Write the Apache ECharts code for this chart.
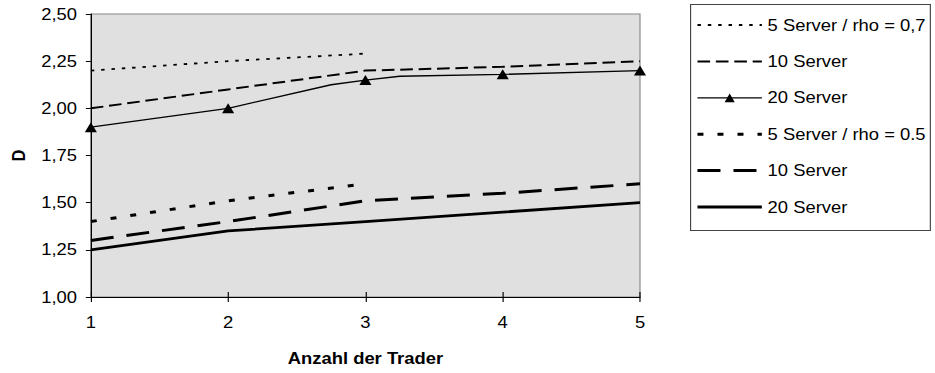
<!DOCTYPE html>
<html>
<head>
<meta charset="utf-8">
<script src="https://cdn.jsdelivr.net/npm/echarts@6/dist/echarts.min.js"></script>
<style>
  html, body { margin: 0; padding: 0; background: #fff; overflow: hidden; width: 935px; height: 373px; }
  /* The chart is laid out on a narrower canvas and widened, as in the original export */
  #chart { position: absolute; left: 0; top: 0; width: 813px; height: 373px; transform: scaleX(1.15); transform-origin: 0 0; }
</style>
</head>
<body>
<div id="chart"></div>
<script>
// Number of traders (x axis)
const traders = [1, 2, 3, 4, 5];

// rho = 0,7
const rho07Server5 = [2.20, 2.25, 2.29];
const rho07Server10 = [2.00, 2.10, 2.20, 2.22, 2.25];
const rho07Server20 = [1.90, 2.00, 2.15, 2.18, 2.20];
const rho07Server20Bends = [[2.75, 2.125], [3.25, 2.17]];

// rho = 0.5
const rho05Server5 = [1.40, 1.51, 1.60];
const rho05Server10 = [1.30, 1.40, 1.51, 1.55, 1.60];
const rho05Server20 = [1.25, 1.35, 1.40, 1.45, 1.50];

const legendLabels = {
  s5r07: '5 Server / rho = 0,7',
  s10r07: '10 Server',
  s20r07: '20 Server',
  s5r05: '5 Server / rho = 0.5',
  s10r05: '10 Server',
  s20r05: '20 Server'
};

const FONT = "'Liberation Sans', Arial, sans-serif";
const BLACK = '#000';

function pairs(xs, ys) {
  return ys.map((y, i) => [xs[i], y]);
}

// Triangle markers only at whole trader counts; bend points carry no marker
const server20r07Data = rho07Server20.map((y, i) => ({ value: [traders[i], y] }))
  .concat(rho07Server20Bends.map(p => ({ value: p, symbol: 'none' })))
  .sort((a, b) => a.value[0] - b.value[0]);

const styles = {
  s5r07: { width: 1.8, type: [3, 6] },
  s10r07: { width: 2, type: [11, 5] },
  s20r07: { width: 1.3, type: 'solid' },
  s5r05: { width: 3, type: [5.2, 12.2] },
  s10r05: { width: 3, type: [20, 11.3] },
  s20r05: { width: 2.8, type: 'solid' }
};

function lineSeries(name, data) {
  return {
    name: name,
    type: 'line',
    data: data,
    symbol: 'none',
    silent: true,
    itemStyle: { color: BLACK },
    lineStyle: { color: BLACK, width: styles[name].width, type: styles[name].type, cap: 'butt' }
  };
}

const series = [
  lineSeries('s5r07', pairs(traders, rho07Server5)),
  lineSeries('s10r07', pairs(traders, rho07Server10)),
  Object.assign(lineSeries('s20r07', server20r07Data), {
    symbol: 'triangle',
    symbolSize: [10.5, 10]
  }),
  lineSeries('s5r05', pairs(traders, rho05Server5)),
  lineSeries('s10r05', pairs(traders, rho05Server10)),
  lineSeries('s20r05', pairs(traders, rho05Server20))
];

function legendItem(name) {
  const item = {
    name: name,
    lineStyle: { color: BLACK, width: styles[name].width, type: styles[name].type, cap: 'butt' }
  };
  if (name !== 's20r07') item.itemStyle = { opacity: 0 };
  return item;
}

const chart = echarts.init(document.getElementById('chart'), null, { renderer: 'svg' });

chart.setOption({
  animation: false,
  backgroundColor: '#fff',
  textStyle: { fontFamily: FONT },
  grid: {
    show: true,
    left: 78.26,
    top: 14,
    width: 478.26,
    height: 283,
    backgroundColor: '#e0e0e0',
    borderColor: '#888',
    borderWidth: 1
  },
  xAxis: [
    {
      type: 'value',
      min: 1,
      max: 5,
      interval: 1,
      position: 'bottom',
      name: 'Anzahl der Trader',
      nameLocation: 'middle',
      nameGap: 53,
      nameTextStyle: { fontFamily: FONT, fontSize: 16, fontWeight: 'bold', color: BLACK },
      axisLine: { show: true, lineStyle: { color: BLACK, width: 1 } },
      axisTick: { show: true, inside: false, length: 5, lineStyle: { color: BLACK } },
      axisLabel: { margin: 17, fontFamily: FONT, fontSize: 16, color: BLACK },
      splitLine: { show: false }
    },
    {
      type: 'value',
      min: 1,
      max: 5,
      interval: 1,
      position: 'bottom',
      axisLine: { show: false },
      axisTick: { show: true, inside: true, length: 5, lineStyle: { color: BLACK } },
      axisLabel: { show: false },
      splitLine: { show: false }
    }
  ],
  yAxis: {
    type: 'value',
    min: 1,
    max: 2.5,
    interval: 0.25,
    name: 'D',
    nameLocation: 'middle',
    nameRotate: 90,
    nameGap: 55,
    nameTextStyle: { fontFamily: FONT, fontSize: 16, fontWeight: 'bold', color: BLACK },
    axisLine: { show: true, lineStyle: { color: BLACK, width: 1 } },
    axisTick: { show: true, inside: false, length: 4.35, lineStyle: { color: BLACK } },
    axisLabel: {
      margin: 12,
      fontFamily: FONT,
      fontSize: 16,
      color: BLACK,
      formatter: v => v.toFixed(2).replace('.', ',')
    },
    splitLine: { show: false }
  },
  legend: {
    orient: 'vertical',
    left: 600,
    top: 12,
    itemWidth: 56,
    itemHeight: 11,
    itemGap: 20.4,
    selectedMode: false,
    formatter: n => legendLabels[n],
    textStyle: { fontFamily: FONT, fontSize: 16, lineHeight: 16, color: BLACK },
    data: ['s5r07', 's10r07', 's20r07', 's5r05', 's10r05', 's20r05'].map(legendItem)
  },
  graphic: [
    {
      type: 'rect',
      left: 600,
      top: 4,
      z: -1,
      shape: { x: 0, y: 0, width: 208.5, height: 226 },
      style: { fill: '#fff', stroke: '#444', lineWidth: 1 }
    }
  ],
  series: series
});
</script>
</body>
</html>
